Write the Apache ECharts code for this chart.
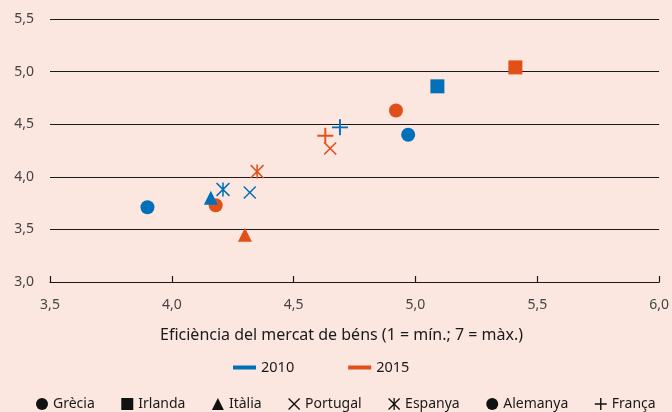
<!DOCTYPE html>
<html lang="ca">
<head>
    <meta charset="UTF-8">
    <title>Eficiència del mercat de béns</title>
    <script src="https://cdn.jsdelivr.net/npm/echarts@6/dist/echarts.min.js"></script>
    <style>
        html, body { margin: 0; padding: 0; background: #fce6e0; }
        #main { width: 672px; height: 412px; }
    </style>
</head>
<body>
<div id="main"></div>
<script>
    // dades llegides del gràfic
    var countries = ['Grècia', 'Irlanda', 'Itàlia', 'Portugal', 'Espanya', 'Alemanya', 'França'];
    var x2010 = [3.90, 5.09, 4.16, 4.32, 4.21, 4.97, 4.69];
    var y2010 = [3.71, 4.86, 3.80, 3.85, 3.88, 4.40, 4.47];
    var x2015 = [4.18, 5.41, 4.30, 4.65, 4.35, 4.92, 4.63];
    var y2015 = [3.73, 5.04, 3.45, 4.27, 4.05, 4.63, 4.39];
    var years = ['2010', '2015'];
    var yTicks = [3.0, 3.5, 4.0, 4.5, 5.0, 5.5];

    var blue = '#0070b8';
    var orange = '#e2501a';
    var font = 'Noto Sans';

    var crossPath = 'path://M0,0.8 L0.8,0 L5,4.2 L9.2,0 L10,0.8 L5.8,5 L10,9.2 L9.2,10 L5,5.8 L0.8,10 L0,9.2 L4.2,5 Z';
    var starPath = 'path://M0,0.8 L0.8,0 L5,4.2 L9.2,0 L10,0.8 L5.8,5 L10,9.2 L9.2,10 L5,5.8 L0.8,10 L0,9.2 L4.2,5 Z M4.45,0 L5.55,0 L5.55,10 L4.45,10 Z';
    var plusPath = 'path://M4.4,0 L5.6,0 L5.6,4.4 L10,4.4 L10,5.6 L5.6,5.6 L5.6,10 L4.4,10 L4.4,5.6 L0,5.6 L0,4.4 L4.4,4.4 Z';
    var symbols = ['circle', 'rect', 'triangle', crossPath, starPath, 'circle', plusPath];
    var sizes = [14, 14, 14, 13, 14, 14, 16];

    function comma(v) {
        return v.toFixed(1).replace('.', ',');
    }

    var series = [];
    for (var i = 0; i < countries.length; i++) {
        series.push({
            name: countries[i],
            type: 'scatter',
            symbol: symbols[i],
            symbolSize: sizes[i],
            itemStyle: { color: '#111', opacity: 1 },
            data: [
                { value: [x2010[i], y2010[i]], itemStyle: { color: blue } },
                { value: [x2015[i], y2015[i]], itemStyle: { color: orange } }
            ]
        });
    }
    // sèries buides només per a la llegenda d'anys
    series.push({ name: years[0], type: 'line', data: [], itemStyle: { color: blue }, lineStyle: { color: blue } });
    series.push({ name: years[1], type: 'line', data: [], itemStyle: { color: orange }, lineStyle: { color: orange } });

    var chart = echarts.init(document.getElementById('main'));
    chart.setOption({
        backgroundColor: '#fce6e0',
        animation: false,
        textStyle: { fontFamily: font },
        grid: { left: 50, right: 12, top: 19, bottom: 130 },
        xAxis: {
            type: 'value',
            min: 3.5,
            max: 6.0,
            interval: 0.5,
            name: 'Eficiència del mercat de béns (1 = mín.; 7 = màx.)',
            nameLocation: 'middle',
            nameGap: 45,
            nameTextStyle: { color: '#1a1a1a', fontSize: 16, fontFamily: font, padding: [0, 26, 0, 0] },
            axisLine: { lineStyle: { color: '#1a1a1a', width: 1.2 } },
            axisTick: { inside: true, length: 6, lineStyle: { color: '#1a1a1a', width: 1.2 } },
            axisLabel: { color: '#444', fontSize: 14, margin: 16, formatter: comma },
            splitLine: { show: false }
        },
        yAxis: {
            type: 'value',
            min: yTicks[0],
            max: yTicks[yTicks.length - 1],
            interval: 0.5,
            axisLine: { show: false },
            axisTick: { show: false },
            axisLabel: { color: '#444', fontSize: 14, margin: 16, formatter: comma },
            splitLine: { lineStyle: { color: '#1a1a1a', width: 1.2 } }
        },
        legend: [{
            data: years,
            left: 228,
            top: 355,
            icon: 'rect',
            itemWidth: 23,
            itemHeight: 4,
            itemGap: 54,
            textStyle: { color: '#1a1a1a', fontSize: 14.5, fontFamily: font }
        }, {
            data: countries.map(function (c, i) { return { name: c, icon: symbols[i] }; }),
            left: 31,
            top: 392,
            itemWidth: 12,
            itemHeight: 12,
            itemGap: 26.5,
            textStyle: { color: '#1a1a1a', fontSize: 14, fontFamily: font }
        }],
        series: series
    });
</script>
</body>
</html>
